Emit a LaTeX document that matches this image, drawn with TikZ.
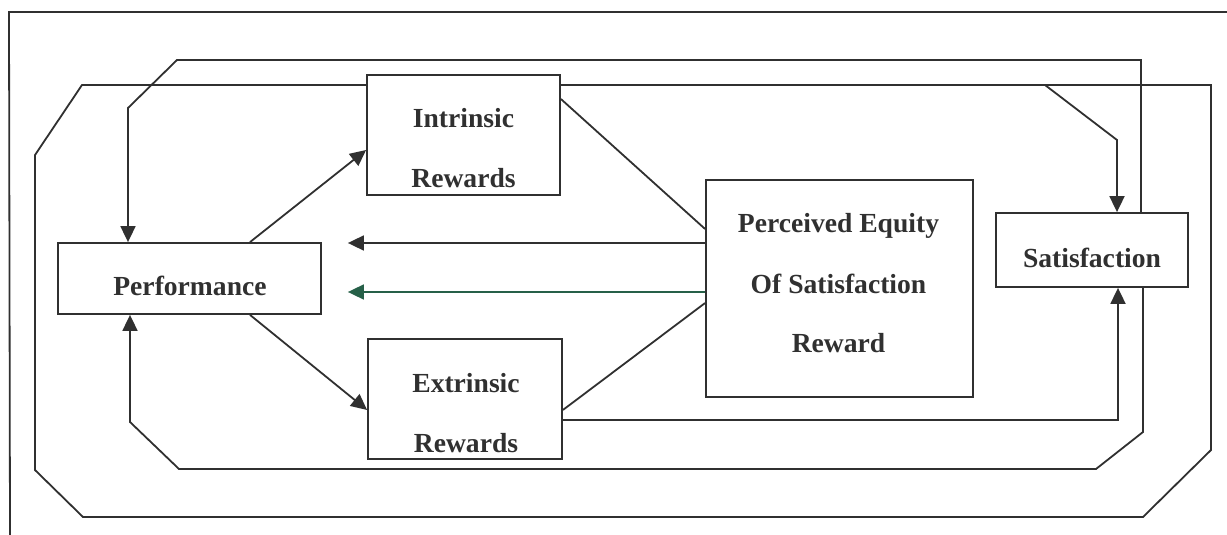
\documentclass[tikz,border=0pt]{standalone}
\usepackage{fontspec}
\setmainfont{Liberation Serif}
\usepackage{xcolor}
\usepackage{tikz}
\usetikzlibrary{arrows.meta}
\definecolor{inkgrey}{RGB}{48,48,48}
\definecolor{inkgreen}{RGB}{38,96,72}

\begin{document}
\begin{tikzpicture}[x=0.5pt, y=-0.5pt, color=inkgrey,
    box/.style={draw=inkgrey, line width=0.9pt, rectangle, inner sep=0pt},
    word/.style={anchor=base, inner sep=0pt, font=\fontsize{13.8pt}{16pt}\selectfont\bfseries},
    wire/.style={draw=inkgrey, line width=0.9pt},
    tip/.style={-{Triangle[length=8pt, width=7.5pt]}}]
    \useasboundingbox (0,0) rectangle (1227,535);

    % page frame
    \draw[wire] (10,535) -- (9,12) -- (1227,12);

    \node[box, minimum width=131.5pt, minimum height=35.5pt] (perf) at (189.5,278.5) {};
    \node[box, minimum width=96.5pt, minimum height=60pt] (intr) at (463.5,135) {};
    \node[box, minimum width=97pt, minimum height=60pt] (extr) at (465,399) {};
    \node[box, minimum width=133.5pt, minimum height=108.5pt] (equity) at (839.5,288.5) {};
    \node[box, minimum width=96pt, minimum height=37pt] (satis) at (1092,250) {};

    \node[word] (perf-a) at (190,295) {Performance};
    \node[word] (intr-a) at (463.5,127) {Intrinsic};
    \node[word] (intr-b) at (463.5,187) {Rewards};
    \node[word] (extr-a) at (466,392) {Extrinsic};
    \node[word] (extr-b) at (466,452) {Rewards};
    \node[word] (eq-a) at (838.5,233) {Perceived Equity};
    \node[word] (eq-b) at (838.5,293) {Of Satisfaction};
    \node[word] (eq-c) at (838.5,352) {Reward};
    \node[word] (sat-a) at (1092,267) {Satisfaction};

    % performance to rewards
    \draw[wire, tip] (perf.north -| 250,0) -- (intr.west |- 0,150);
    \draw[wire, tip] (perf.south -| 250,0) -- (extr.west |- 0,410);

    % equity back to performance
    \draw[wire, tip, shorten >=13pt] (equity.west |- 0,243) -- (perf.east |- 0,243);
    \draw[wire, draw=inkgreen, tip, shorten >=13pt] (equity.west |- 0,292) -- (perf.east |- 0,292);

    \draw[wire] (intr.east |- 0,99) -- (equity.west |- 0,229);
    \draw[wire] (extr.east |- 0,410) -- (equity.west |- 0,303);

    % rewards to satisfaction
    \draw[wire, tip] (extr.east |- 0,420) -| (satis.south -| 1118,0);
    \coordinate (fork) at (1045,85);
    \draw[wire] (intr.east |- 0,85) -- (fork);
    \draw[wire, tip] (fork) -- (1117,140) -- (satis.north -| 1117,0);

    % feedback loops
    \draw[wire, tip] (satis.north -| 1141,0) -- (1141,60) -- (177,60) -- (128,108) -- (perf.north -| 128,0);
    \draw[wire, tip] (satis.south -| 1143,0) -- (1143,432) -- (1096,469) -- (179,469) -- (130,422) -- (perf.south -| 130,0);
    \draw[wire] (fork) -- (1211,85) -- (1211,450) -- (1143,517) -- (83,517) -- (35,470) -- (35,155) -- (82,85) -- (intr.west |- 0,85);
\end{tikzpicture}
\end{document}
